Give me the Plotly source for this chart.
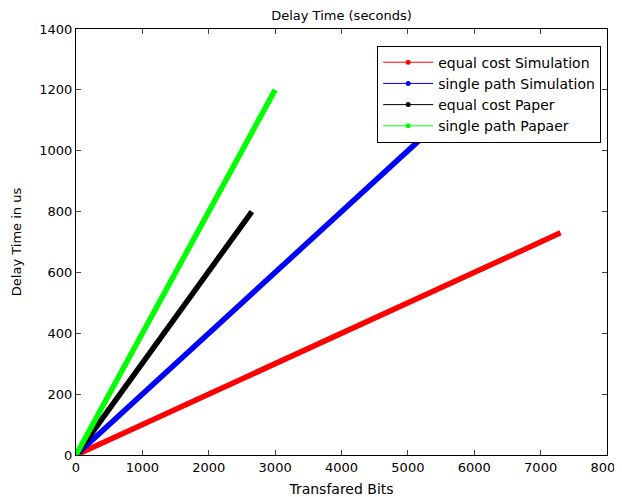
import plotly.graph_objects as go

names = ["equal cost Simulation", "single path Simulation", "equal cost Paper", "single path Papaer"]
colors = ["#ff0000", "#0000ff", "#000000", "#00ff00"]
eq_sim_x = [0, 7300]
eq_sim_y = [0, 730]
sp_sim_x = [0, 6000]
sp_sim_y = [0, 1200]
eq_pap_x = [0, 2650]
eq_pap_y = [0, 800]
sp_pap_x = [0, 3000]
sp_pap_y = [0, 1200]

series = [(eq_sim_x, eq_sim_y), (sp_sim_x, sp_sim_y), (eq_pap_x, eq_pap_y), (sp_pap_x, sp_pap_y)]

fig = go.Figure()
for (xs, ys), c in zip(series, colors):
    fig.add_trace(go.Scatter(x=xs, y=ys, mode="lines", line=dict(color=c, width=5.5),
                             showlegend=False, hoverinfo="skip"))
for n, c in zip(names, colors):
    fig.add_trace(go.Scatter(x=[None], y=[None], mode="lines+markers", name=n,
                             line=dict(color=c, width=1), marker=dict(color=c, size=5)))

font = "DejaVu Sans, Arial, sans-serif"
fig.update_layout(
    width=622, height=497,
    margin=dict(l=68, r=23, t=21, b=50, autoexpand=False),
    paper_bgcolor="white", plot_bgcolor="white",
    font=dict(family=font, size=12, color="black"),
    title=dict(text="Delay Time (seconds)", x=0.5, xref="paper", xanchor="center",
               y=1, yref="container", yanchor="top", pad=dict(t=3),
               font=dict(size=13)),
    legend=dict(x=0.989, y=0.961, xanchor="right", yanchor="top",
                bgcolor="white", bordercolor="black", borderwidth=1,
                font=dict(size=14), tracegroupgap=0, itemwidth=50),
    showlegend=True,
)
fig.update_xaxes(range=[0, 8000], dtick=1000, tick0=0, ticks="inside", ticklen=5,
                 showline=True, linecolor="black", linewidth=1, mirror="ticks",
                 showgrid=False, zeroline=False, automargin=False,
                 tickfont=dict(size=13),
                 title=dict(text="Transfared Bits", standoff=10, font=dict(size=14)))
fig.update_yaxes(range=[0, 1400], dtick=200, tick0=0, ticks="inside", ticklen=5,
                 showline=True, linecolor="black", linewidth=1, mirror="ticks",
                 showgrid=False, zeroline=False, automargin=False,
                 tickfont=dict(size=13),
                 title=dict(text="Delay Time in us", standoff=14, font=dict(size=13)))

fig.write_html("out.html")
